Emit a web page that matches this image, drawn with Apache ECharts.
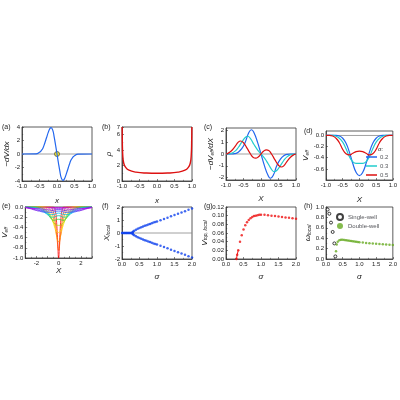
<!DOCTYPE html><html><head><meta charset="utf-8"><script src="https://cdn.jsdelivr.net/npm/echarts@6/dist/echarts.min.js"></script></head><body style="margin:0"><div id="c" style="width:400px;height:400px"></div><script>
const aX=[0,0.04,0.08,0.12,0.17,0.2,0.25,0.3,0.35,0.4,0.45,0.5,0.6,1.0];
const aY=[0,-1.3,-2.5,-3.5,-3.9,-3.8,-3.2,-2.4,-1.6,-0.9,-0.5,-0.25,-0.02,0];
const bX=[0,0.3,0.6,0.8,0.9,0.95,0.98,0.99,0.995];
const bY=[1.0,1.03,1.15,1.4,1.8,2.3,3.5,5,7];
const cX02=[0,0.1,0.2,0.27,0.35,0.45,0.55,0.65,0.75,0.85,1];
const cY02=[0,-1,-1.8,-2.05,-1.8,-1,-0.45,-0.15,-0.03,0,0];
const cX03=[0,0.1,0.2,0.3,0.38,0.45,0.55,0.65,0.75,0.85,0.95,1];
const cY03=[0,-0.35,-0.8,-1.3,-1.5,-1.4,-1.0,-0.55,-0.22,-0.06,0,0];
const cX05=[0,0.08,0.15,0.22,0.3,0.4,0.5,0.58,0.65,0.75,0.85,0.95,1];
const cY05=[0,0.25,0.35,0.3,0,-0.5,-0.95,-1.1,-1.0,-0.6,-0.25,-0.05,0];
const dX02=[0,0.1,0.2,0.3,0.4,0.5,0.6,0.7,1];
const dY02=[-0.72,-0.66,-0.5,-0.3,-0.14,-0.05,-0.01,0,0];
const dX03=[0,0.1,0.2,0.3,0.4,0.5,0.6,0.7,0.8,1];
const dY03=[-0.5,-0.5,-0.47,-0.38,-0.24,-0.12,-0.05,-0.015,0,0];
const dX05=[0,0.1,0.2,0.3,0.4,0.5,0.6,0.7,0.8,0.9,1];
const dY05=[-0.28,-0.29,-0.32,-0.35,-0.33,-0.25,-0.13,-0.05,-0.01,0,0];
const eCurves=[
 [[0,0.1,0.2,0.3,0.5,3],[-1,-0.6,-0.25,-0.08,0,0]],
 [[0,0.15,0.3,0.5,0.8,3],[-0.85,-0.6,-0.3,-0.08,0,0]],
 [[0,0.2,0.4,0.6,0.9,1.2,3],[-0.68,-0.55,-0.3,-0.12,-0.02,0,0]],
 [[0,0.3,0.5,0.8,1.1,1.5,3],[-0.5,-0.42,-0.3,-0.12,-0.03,0,0]],
 [[0,0.3,0.6,0.9,1.3,1.7,3],[-0.36,-0.34,-0.25,-0.12,-0.03,0,0]],
 [[0,0.4,0.7,1.0,1.4,1.9,3],[-0.24,-0.26,-0.22,-0.12,-0.04,0,0]],
 [[0,0.5,0.9,1.3,1.8,2.2,3],[-0.17,-0.2,-0.17,-0.08,-0.02,0,0]],
 [[0,0.6,1.1,1.5,2.0,2.5,3],[-0.12,-0.15,-0.13,-0.07,-0.02,0,0]],
 [[0,0.8,1.4,1.9,2.4,2.9,3],[-0.08,-0.11,-0.1,-0.05,-0.015,0,0]],
 [[0,1.0,1.7,2.3,2.8,3],[-0.05,-0.08,-0.08,-0.04,-0.01,0]],
 [[0,1.2,2.0,2.6,3],[-0.03,-0.05,-0.06,-0.03,-0.01]],
 [[0,1.5,2.3,3],[-0.01,-0.02,-0.03,-0.01]]];
const eColors=['#ff0000','#ff5500','#ff9900','#ffdd00','#aadd00','#33cc33','#00ccaa','#00bbee','#3366ff','#5522ee','#9922ee','#bb00dd'];
const fS0=[0,0.02,0.04,0.06,0.08,0.1,0.12,0.14,0.16,0.18,0.2,0.22,0.24,0.26,0.28,0.3];
const fS=[0.3,0.32,0.35,0.4,0.45,0.5,0.55,0.6,0.65,0.7,0.75,0.8,0.85,0.9,0.95,1.0,1.1,1.2,1.3,1.4,1.5,1.6,1.7,1.8,1.9,2.0];
const fX=[0.05,0.12,0.18,0.25,0.32,0.38,0.44,0.5,0.55,0.6,0.65,0.7,0.75,0.8,0.84,0.88,0.98,1.08,1.18,1.28,1.38,1.48,1.58,1.68,1.78,1.88];
const gS=[0.3,0.32,0.35,0.4,0.45,0.5,0.55,0.6,0.65,0.7,0.75,0.8,0.85,0.9,0.95,1.0,1.1,1.2,1.3,1.4,1.5,1.6,1.7,1.8,1.9,2.0];
const gV=[0,0.01,0.02,0.04,0.055,0.068,0.078,0.085,0.09,0.094,0.097,0.099,0.1,0.101,0.102,0.102,0.102,0.101,0.1,0.099,0.098,0.097,0.096,0.095,0.094,0.093];
const hS1=[0.05,0.1,0.15,0.2,0.25,0.28];
const hW1=[0.95,0.87,0.7,0.52,0.3,0.05];
const hS2=[0.3,0.32,0.35,0.4,0.45,0.5,0.55,0.6,0.65,0.7,0.75,0.8,0.85,0.9,0.95,1.0,1.1,1.2,1.3,1.4,1.5,1.6,1.7,1.8,1.9,2.0];
const hW2=[0.15,0.28,0.33,0.36,0.37,0.37,0.365,0.36,0.355,0.35,0.345,0.34,0.335,0.33,0.325,0.32,0.315,0.31,0.305,0.3,0.295,0.29,0.285,0.28,0.275,0.27];

function zip(x,y){return x.map((v,i)=>[v,y[i]]);}
function sym(x,y){const r=[];for(let i=x.length-1;i>0;i--)r.push([-x[i],y[i]]);return r.concat(zip(x,y));}
function anti(x,y){const r=[];for(let i=x.length-1;i>0;i--)r.push([-x[i],-y[i]]);return r.concat(zip(x,y));}
const F='Liberation Sans';
const grids=[[22,127,70,54],[122,127,70,54],[226,128,70,52],[326,131,69,49],[22,207,70,51],[122,207,70,52],[226,207,70,52],[326,207,70,52]];
const xA=[],yA=[];
function ax(g,min,max,iv,name,dec,isY,gap){
 const o={gridIndex:g,type:'value',min,max,interval:iv,name,nameLocation:'middle',nameGap:gap,
  nameTextStyle:{fontFamily:F,fontSize:8,fontStyle:'italic',color:'#222',rich:{i:{fontStyle:'italic',fontSize:8,fontFamily:F},s:{fontSize:5,fontFamily:F,verticalAlign:'bottom',padding:[3,0,0,0]}}},
  axisLine:{show:true,onZero:false,lineStyle:{color:'#333',width:0.8}},axisTick:{inside:true,length:2,lineStyle:{color:'#333',width:0.6}},
  minorTick:{show:true,splitNumber:2,length:1.2,lineStyle:{color:'#333',width:0.5}},
  axisLabel:{fontFamily:F,fontSize:6,color:'#222',margin:2,formatter:v=>dec>=0?v.toFixed(dec):String(v)},splitLine:{show:false}};
 (isY?yA:xA).push(o);
 return o;
}
ax(0,-1,1,0.5,'x',1,false,16);ax(0,-4,4,2,'−dV/dx',-1,true,9);
ax(1,-1,1,0.5,'x',1,false,16);ax(1,0,7,2,'ρ',-1,true,8);
ax(2,-1,1,0.5,'X',1,false,15);
const yc=ax(2,-2.2,2.2,1,'{i|−dV}{s|eff}{i|/dX}',0,true,10);
yc.axisLabel.customValues=[-2,-1,0,1,2];yc.axisTick.customValues=[-2,-1,0,1,2];yc.minorTick.show=false;
ax(3,-1,1,0.5,'X',1,false,16);
const yd=ax(3,-0.8,0.08,0.2,'{i|V}{s|eff}',1,true,14);
yd.axisLabel.customValues=[0,-0.2,-0.4,-0.6];yd.axisTick.customValues=[0,-0.2,-0.4,-0.6];yd.minorTick.show=false;
ax(4,-3,3,1,'X',-1,false,8);ax(4,-1,0,0.2,'{i|V}{s|eff}',1,true,15);
xA[4].axisLabel.formatter=v=>(v===-2||v===0||v===2)?String(v):'';
ax(5,0,2,0.5,'σ',1,false,14);ax(5,-2,2,1,'{i|X}{s|local}',-1,true,9);
ax(6,0,2,0.5,'σ',1,false,14);ax(6,0,0.12,0.02,'{i|V}{s|top, local}',2,true,17);
ax(7,0,2,0.5,'σ',1,false,14);ax(7,0,1,0.2,'{i|ω}{s|local}',1,true,14);
const grid=grids.map(g=>({left:g[0],top:g[1],width:g[2],height:g[3],show:true,borderColor:'#333',borderWidth:0.8,backgroundColor:'transparent'}));
const S=[];
function line(g,data,color,w,extra){S.push(Object.assign({type:'line',xAxisIndex:g,yAxisIndex:g,data,smooth:true,showSymbol:false,symbol:'none',lineStyle:{color,width:w||1.2},itemStyle:{color},silent:true},extra||{}));}
function zero(g,a,b){line(g,[[a,0],[b,0]],'#888',0.8,{smooth:false,z:1});}
zero(0,-1,1);line(0,anti(aX,aY),'#2266ee',1.2);
S.push({type:'scatter',xAxisIndex:0,yAxisIndex:0,data:[[0,0]],symbolSize:5,itemStyle:{color:'#ffee00',borderColor:'#333',borderWidth:0.8}});
line(1,sym(bX,bY),'#dd1111',1.4);
zero(2,-1,1);
line(2,anti(cX02,cY02),'#2266ee',1.2);line(2,anti(cX03,cY03),'#22cccc',1.2);line(2,anti(cX05,cY05),'#dd1111',1.2);
zero(3,-1,1);
line(3,sym(dX02,dY02),'#2266ee',1.2,{name:'0.2'});line(3,sym(dX03,dY03),'#22cccc',1.2,{name:'0.3'});line(3,sym(dX05,dY05),'#dd1111',1.2,{name:'0.5'});
eCurves.forEach((c,i)=>line(4,sym(c[0],c[1]),eColors[i],0.8));
zero(5,0,2);
const sc=(g,data,color,sz,extra)=>S.push(Object.assign({type:'scatter',xAxisIndex:g,yAxisIndex:g,data,symbolSize:sz||2.5,itemStyle:{color},silent:true},extra||{}));
sc(5,fS0.map(s=>[s,0]),'#1144ee');sc(5,zip(fS,fX),'#1144ee');sc(5,fS.map((s,i)=>[s,-fX[i]]),'#1144ee');
line(6,[[0.27,-0.02],[0.3,0],[0.32,0.01],[0.35,0.02]],'#ee1111',1,{smooth:false});
sc(6,zip(gS,gV),'#ee1111');
sc(7,zip(hS1,hW1),'#fff',3,{name:'Single-well',itemStyle:{color:'#fff',borderColor:'#111',borderWidth:1}});
sc(7,zip(hS2,hW2),'#66aa22',2.5,{name:'Double-well',itemStyle:{color:'#66aa22'}});
const lbl=(t,x,y)=>({type:'text',left:x,top:y,style:{text:t,font:'7px '+F,fill:'#222'}});
const opt={animation:false,grid,xAxis:xA,yAxis:yA,series:S,
 legend:[{data:['0.2','0.3','0.5'],left:366,top:154,orient:'vertical',icon:'rect',itemWidth:11,itemHeight:1.5,itemGap:3,padding:0,textStyle:{fontFamily:F,fontSize:6,padding:[0,0,0,-2]},backgroundColor:'transparent'},
  {data:['Single-well','Double-well'],left:336,top:213,orient:'vertical',icon:'circle',itemWidth:6,itemHeight:6,itemGap:2,padding:0,textStyle:{fontFamily:F,fontSize:6}}],
 graphic:[lbl('(a)',2,124),lbl('(b)',102,124),lbl('(c)',204,124),lbl('(d)',304,128),lbl('(e)',2,203),lbl('(f)',102,203),lbl('(g)',204,203),lbl('(h)',304,203),
  {type:'text',left:378,top:146,style:{text:'σ:',font:'italic 6px '+F,fill:'#222'}}]};
echarts.init(document.getElementById('c')).setOption(opt);
</script></body></html>
